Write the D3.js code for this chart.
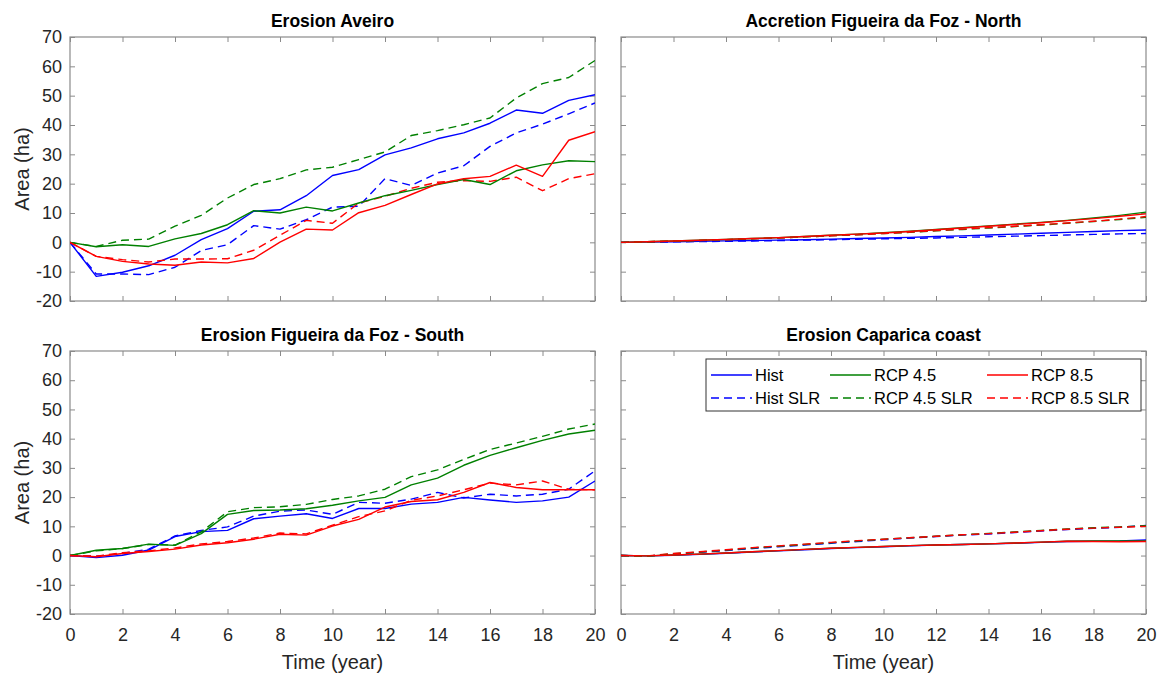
<!DOCTYPE html>
<html>
<head>
<meta charset="utf-8">
<script src="https://cdn.jsdelivr.net/npm/d3@7"></script>
<style>
  html, body { margin: 0; padding: 0; background: #fff; }
  svg { display: block; font-family: "Liberation Sans", Arial, sans-serif; }
</style>
</head>
<body>
<svg id="chart" width="1161" height="676"></svg>
<script>
const years = d3.range(0, 21);
const yTicks = [-20, -10, 0, 10, 20, 30, 40, 50, 60, 70];
const xTicks = [0, 2, 4, 6, 8, 10, 12, 14, 16, 18, 20];
const seriesNames = ["Hist", "RCP 4.5", "RCP 8.5", "Hist SLR", "RCP 4.5 SLR", "RCP 8.5 SLR"];
const panelTitles = ["Erosion Aveiro", "Accretion Figueira da Foz - North", "Erosion Figueira da Foz - South", "Erosion Caparica coast"];

// Erosion Aveiro
const aveiroHist     = [0, -11.6, -10.2, -8.0, -4.4, 0.9, 4.7, 10.6, 11.1, 15.9, 22.8, 24.8, 29.8, 32.2, 35.3, 37.3, 40.6, 45.1, 44.0, 48.4, 50.3];
const aveiroR45      = [0, -1.5, -0.8, -1.4, 1.2, 3.0, 6.0, 10.8, 10.0, 12.0, 10.7, 13.4, 15.9, 17.7, 19.7, 21.4, 19.7, 24.4, 26.4, 27.8, 27.5];
const aveiroR85      = [0, -4.8, -6.5, -7.4, -7.8, -6.7, -7.0, -5.5, 0.1, 4.5, 4.2, 10.1, 12.6, 16.3, 19.9, 21.7, 22.5, 26.3, 22.5, 34.8, 37.7];
const aveiroHistSLR  = [0, -10.8, -10.8, -11.0, -8.5, -2.8, -0.8, 5.7, 4.5, 7.7, 12.0, 12.3, 21.7, 19.4, 23.6, 26.1, 32.7, 37.3, 40.3, 43.8, 47.5];
const aveiroR45SLR   = [0, -1.4, 0.7, 1.1, 5.5, 9.2, 15.1, 19.7, 21.7, 24.7, 25.6, 28.2, 30.8, 36.4, 38.1, 40.1, 42.4, 49.2, 54.1, 56.2, 62.0];
const aveiroR85SLR   = [0, -4.8, -5.9, -6.7, -5.7, -5.7, -5.6, -2.7, 2.4, 7.5, 6.5, 13.4, 15.7, 18.4, 20.5, 21.0, 20.8, 22.2, 17.6, 21.7, 23.4];

// Accretion Figueira da Foz - North
const northHist      = [0, 0.1, 0.2, 0.35, 0.5, 0.6, 0.75, 0.9, 1.1, 1.3, 1.5, 1.7, 2.0, 2.2, 2.5, 2.8, 3.1, 3.4, 3.7, 4.0, 4.2];
const northR45       = [0, 0.2, 0.45, 0.7, 1.0, 1.3, 1.6, 2.0, 2.4, 2.8, 3.3, 3.8, 4.4, 5.0, 5.6, 6.2, 6.8, 7.5, 8.3, 9.2, 10.3];
const northR85       = [0, 0.2, 0.45, 0.7, 1.0, 1.3, 1.6, 2.0, 2.4, 2.8, 3.2, 3.7, 4.3, 4.9, 5.5, 6.1, 6.7, 7.4, 8.1, 8.9, 9.7];
const northHistSLR   = [0, 0.05, 0.15, 0.25, 0.35, 0.45, 0.6, 0.75, 0.9, 1.05, 1.2, 1.35, 1.5, 1.7, 1.9, 2.1, 2.3, 2.5, 2.7, 2.9, 3.0];
const northR45SLR    = [0, 0.2, 0.4, 0.65, 0.9, 1.2, 1.5, 1.85, 2.2, 2.6, 3.0, 3.4, 3.9, 4.4, 4.9, 5.4, 5.9, 6.5, 7.1, 7.8, 8.5];
const northR85SLR    = [0, 0.2, 0.4, 0.65, 0.9, 1.2, 1.5, 1.85, 2.2, 2.6, 3.0, 3.5, 4.0, 4.5, 5.0, 5.5, 6.0, 6.6, 7.2, 7.9, 8.8];

// Erosion Figueira da Foz - South
const southHist      = [0, -0.7, 0.1, 1.9, 6.5, 8.2, 8.6, 12.6, 13.5, 14.3, 12.7, 16.1, 16.1, 17.6, 18.2, 19.9, 19.0, 18.2, 18.7, 20.0, 25.5];
const southR45       = [0, 1.8, 2.4, 3.9, 3.5, 7.5, 14.1, 15.4, 15.6, 16.0, 17.2, 18.7, 19.9, 24.2, 26.5, 30.9, 34.3, 36.9, 39.4, 41.6, 42.9];
const southR85       = [0, -0.4, 0.7, 1.4, 2.2, 3.6, 4.4, 5.6, 7.3, 7.0, 10.1, 12.4, 16.6, 18.5, 19.1, 21.6, 25.0, 23.3, 22.5, 22.5, 22.5];
const southHistSLR   = [0, -0.2, 0.7, 2.2, 6.7, 8.6, 9.8, 13.5, 15.2, 15.6, 14.1, 18.2, 17.9, 19.3, 21.6, 19.7, 21.0, 20.4, 21.0, 22.7, 29.0];
const southR45SLR    = [0, 1.6, 2.4, 3.8, 3.6, 8.1, 15.0, 16.4, 16.7, 17.5, 19.2, 20.4, 22.7, 27.0, 29.3, 32.9, 36.3, 38.5, 40.8, 43.3, 45.0];
const southR85SLR    = [0, -0.2, 1.0, 1.6, 2.6, 4.0, 4.8, 6.0, 7.7, 7.4, 10.4, 13.3, 15.3, 18.9, 20.4, 22.5, 24.8, 24.2, 25.5, 22.7, 22.5];

// Erosion Caparica coast
const capHist        = [0, -0.1, 0.1, 0.4, 0.8, 1.2, 1.6, 2.0, 2.4, 2.7, 3.0, 3.3, 3.6, 3.8, 4.0, 4.2, 4.5, 4.8, 4.9, 5.0, 5.3];
const capR45         = [0, -0.1, 0.2, 0.5, 0.9, 1.3, 1.7, 2.1, 2.5, 2.8, 3.1, 3.4, 3.6, 3.8, 4.0, 4.3, 4.6, 4.9, 5.0, 5.0, 5.0];
const capR85         = [0, -0.1, 0.2, 0.5, 0.9, 1.3, 1.7, 2.1, 2.5, 2.8, 3.1, 3.4, 3.6, 3.8, 4.0, 4.3, 4.6, 4.9, 4.8, 4.7, 4.8];
const capHistSLR     = [0, -0.2, 0.5, 1.1, 1.7, 2.4, 3.0, 3.6, 4.2, 4.8, 5.4, 6.0, 6.5, 7.0, 7.4, 7.9, 8.4, 8.9, 9.3, 9.7, 10.3];
const capR45SLR      = [0, -0.2, 0.6, 1.2, 1.9, 2.6, 3.2, 3.8, 4.4, 5.0, 5.6, 6.1, 6.6, 7.1, 7.6, 8.1, 8.6, 9.1, 9.5, 9.8, 10.2];
const capR85SLR      = [0, -0.1, 0.7, 1.3, 2.0, 2.7, 3.3, 3.9, 4.5, 5.1, 5.6, 6.1, 6.6, 7.1, 7.5, 8.0, 8.5, 9.0, 9.4, 9.7, 10.0];

const panelData = [
  [aveiroHist, aveiroR45, aveiroR85, aveiroHistSLR, aveiroR45SLR, aveiroR85SLR],
  [northHist, northR45, northR85, northHistSLR, northR45SLR, northR85SLR],
  [southHist, southR45, southR85, southHistSLR, southR45SLR, southR85SLR],
  [capHist, capR45, capR85, capHistSLR, capR45SLR, capR85SLR]
];

const colors = ["#0000ff", "#008000", "#ff0000", "#0000ff", "#008000", "#ff0000"];
const dashes = [null, null, null, "8,5", "8,5", "8,5"];
const drawOrder = [0, 3, 4, 5, 1, 2];

const panels = [
  { x0: 70, x1: 595, y0: 37, y1: 301, xlab: false, ylab: true },
  { x0: 621, x1: 1146, y0: 37, y1: 301, xlab: false, ylab: false },
  { x0: 70, x1: 595, y0: 351, y1: 614, xlab: true, ylab: true },
  { x0: 621, x1: 1146, y0: 351, y1: 614, xlab: true, ylab: false }
];

const svg = d3.select("#chart");
const axisColor = "#262626";
const boxColor = "#8a8a8a";
const fmt = d => String(d);

panels.forEach((p, i) => {
  const x = d3.scaleLinear().domain([0, 20]).range([p.x0, p.x1]);
  const y = d3.scaleLinear().domain([-20, 70]).range([p.y1, p.y0]);
  const g = svg.append("g");

  g.append("rect").attr("x", p.x0).attr("y", p.y0)
    .attr("width", p.x1 - p.x0).attr("height", p.y1 - p.y0)
    .attr("fill", "#fff").attr("stroke", boxColor).attr("stroke-width", 1.2);

  const tl = 5;
  const xb = d3.axisBottom(x).tickValues(xTicks).tickSize(-tl).tickPadding(14)
    .tickFormat(p.xlab ? fmt : () => "");
  const xt = d3.axisTop(x).tickValues(xTicks).tickSize(-tl).tickFormat(() => "");
  const yl = d3.axisLeft(y).tickValues(yTicks).tickSize(-tl).tickPadding(8)
    .tickFormat(p.ylab ? fmt : () => "");
  const yr = d3.axisRight(y).tickValues(yTicks).tickSize(-tl).tickFormat(() => "");

  [[xb, `translate(0,${p.y1})`], [xt, `translate(0,${p.y0})`], [yl, `translate(${p.x0},0)`], [yr, `translate(${p.x1},0)`]]
    .forEach(([ax, tr]) => {
      const a = g.append("g").attr("transform", tr).call(ax);
      a.select(".domain").remove();
      a.selectAll(".tick line").attr("stroke", boxColor).attr("stroke-width", 1);
      a.selectAll(".tick text").attr("fill", axisColor).style("font-size", "18px")
        .style("font-family", "'Liberation Sans', Arial, sans-serif");
    });

  const line = d3.line().x((d, k) => x(years[k])).y(d => y(d));
  const clipId = "clip" + i;
  svg.append("clipPath").attr("id", clipId).append("rect")
    .attr("x", p.x0).attr("y", p.y0).attr("width", p.x1 - p.x0).attr("height", p.y1 - p.y0);
  const lg = g.append("g").attr("clip-path", `url(#${clipId})`);
  drawOrder.forEach(s => {
    lg.append("path").datum(panelData[i][s])
      .attr("d", line)
      .attr("fill", "none")
      .attr("stroke", colors[s])
      .attr("stroke-width", 1.4)
      .attr("stroke-dasharray", dashes[s])
      .attr("stroke-linejoin", "round");
  });

  g.append("text").attr("x", (p.x0 + p.x1) / 2).attr("y", p.y0 - 10)
    .attr("text-anchor", "middle").style("font-size", "17.5px").style("font-weight", "bold")
    .attr("fill", "#000").text(panelTitles[i]);

  if (p.ylab) {
    g.append("text")
      .attr("transform", `translate(29,${(p.y0 + p.y1) / 2}) rotate(-90)`)
      .attr("text-anchor", "middle").style("font-size", "20px").attr("fill", axisColor)
      .text("Area (ha)");
  }
  if (p.xlab) {
    g.append("text").attr("x", (p.x0 + p.x1) / 2).attr("y", 669)
      .attr("text-anchor", "middle").style("font-size", "20px").attr("fill", axisColor)
      .text("Time (year)");
  }
});

const lgd = svg.append("g");
lgd.append("rect").attr("x", 706).attr("y", 359).attr("width", 435).attr("height", 52)
  .attr("fill", "#fff").attr("stroke", "#333").attr("stroke-width", 1);
const colX = [711, 830, 987];
const rowY = [375, 398];
seriesNames.forEach((name, s) => {
  const cx = colX[s % 3], cy = rowY[Math.floor(s / 3)];
  lgd.append("line").attr("x1", cx).attr("x2", cx + 41).attr("y1", cy).attr("y2", cy)
    .attr("stroke", colors[s]).attr("stroke-width", 1.4).attr("stroke-dasharray", dashes[s]);
  lgd.append("text").attr("x", cx + 44).attr("y", cy + 6)
    .style("font-size", "16.5px").attr("fill", "#000").text(name);
});
</script>
</body>
</html>
